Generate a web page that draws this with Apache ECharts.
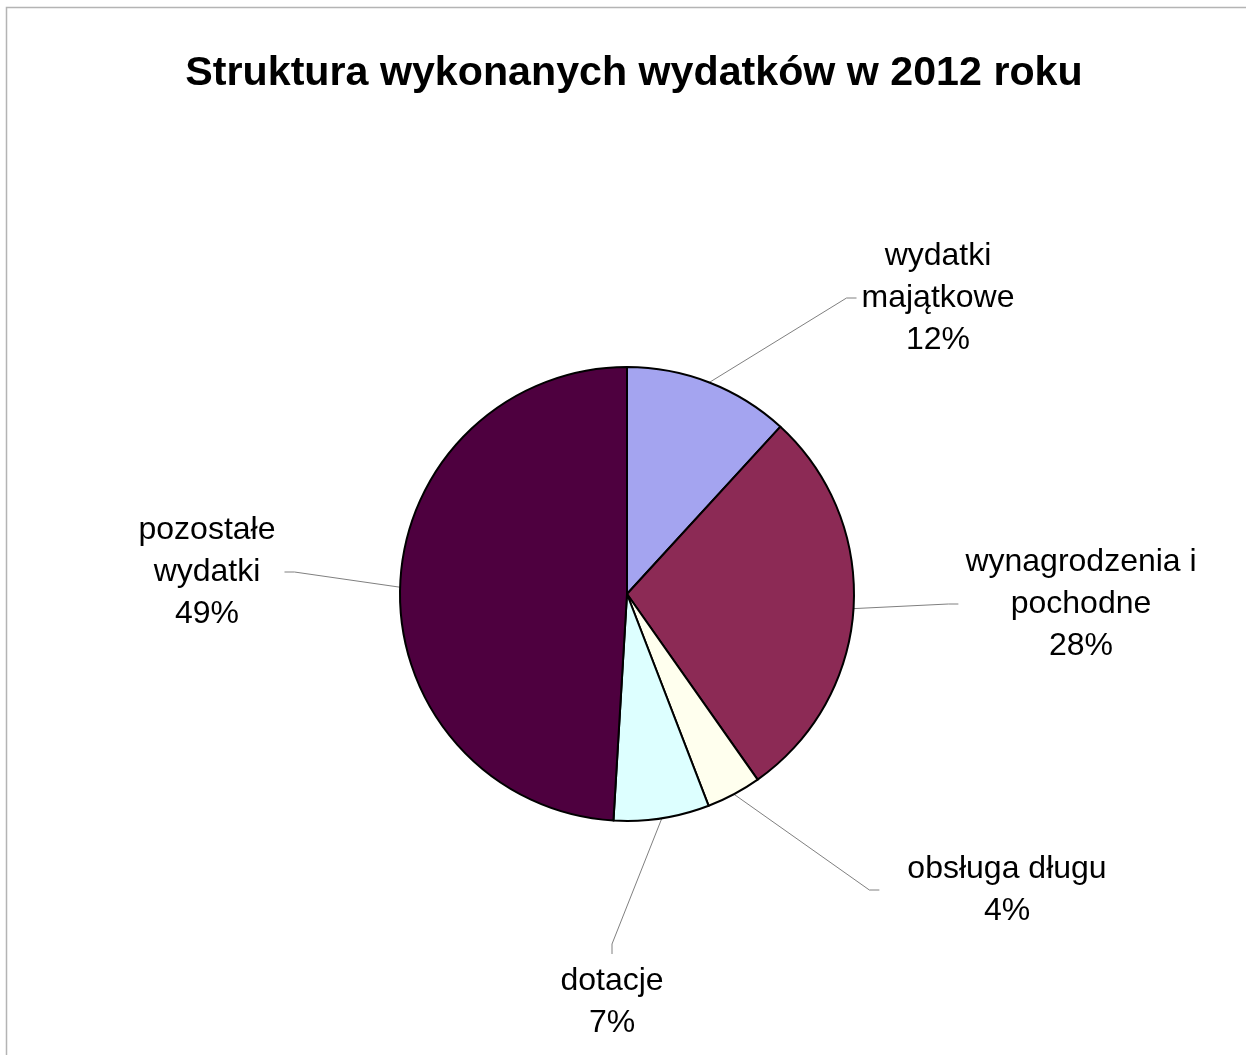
<!DOCTYPE html>
<html>
<head>
<meta charset="utf-8">
<script src="https://cdn.jsdelivr.net/npm/echarts@6/dist/echarts.min.js"></script>
<style>
html,body{margin:0;padding:0;background:#fff;}
#chart{width:1246px;height:1055px;}
</style>
</head>
<body>
<div id="chart"></div>
<script>
// ---- data ----
const titleText = 'Struktura wykonanych wydatków w 2012 roku';
const categories = ['wydatki\nmajątkowe', 'wynagrodzenia i\npochodne', 'obsługa długu', 'dotacje', 'pozostałe\nwydatki'];
const values = [11.8, 28.4, 3.9, 6.8, 49.0];
const colors = ['#A4A4F0', '#8C2A55', '#FFFFEE', '#DDFFFF', '#4E003F'];

// ---- label layout (positions of the label text blocks, px) ----
const labelCenters = [[938, 298], [1081, 604], [1007, 890], [612, 1002], [207, 572]];
const labelSides = ['left', 'left', 'left', 'top', 'right'];
const labelGaps = [5, 7, 28, 6, 9];
const elbowLen = 10;

const chart = echarts.init(document.getElementById('chart'), null, {renderer: 'canvas'});

const option = {
  animation: false,
  backgroundColor: '#ffffff',
  title: {
    text: titleText,
    left: 629,
    textAlign: 'center',
    top: 48,
    textStyle: {
      fontFamily: 'Liberation Sans, Arial, sans-serif',
      fontSize: 41.2,
      fontWeight: 'bold',
      color: '#000'
    }
  },
  graphic: [{
    type: 'rect',
    silent: true,
    shape: {x: 6.5, y: 7.5, width: 1400, height: 1200},
    style: {fill: 'none', stroke: '#b4b4b4', lineWidth: 1.5}
  }],
  series: [{
    type: 'pie',
    center: [627, 594],
    radius: 227,
    startAngle: 90,
    clockwise: true,
    avoidLabelOverlap: false,
    data: categories.map((c, i) => ({name: c, value: values[i], itemStyle: {color: colors[i]}})),
    itemStyle: {borderColor: '#000', borderWidth: 2},
    label: {
      show: true,
      position: 'outside',
      formatter: p => p.name + '\n' + Math.round(p.percent) + '%',
      fontFamily: 'Liberation Sans, Arial, sans-serif',
      fontSize: 32,
      lineHeight: 42,
      color: '#000',
      align: 'center'
    },
    labelLine: {
      show: true,
      length: 20,
      length2: 10,
      smooth: false,
      lineStyle: {color: '#808080', width: 1}
    },
    emphasis: {disabled: true},
    labelLayout: function (params) {
      const i = params.dataIndex;
      const c = labelCenters[i];
      const w = params.labelRect.width, h = params.labelRect.height;
      const side = labelSides[i];
      const g = labelGaps[i];
      let end, elbow;
      if (side === 'left') {
        end = [c[0] - w / 2 - g, c[1]];
        elbow = [end[0] - elbowLen, end[1]];
      } else if (side === 'right') {
        end = [c[0] + w / 2 + g, c[1]];
        elbow = [end[0] + elbowLen, end[1]];
      } else {
        end = [c[0], c[1] - h / 2 - g];
        elbow = [end[0], end[1] - elbowLen];
      }
      const res = {x: c[0], y: c[1], align: 'center', verticalAlign: 'middle'};
      if (params.labelLinePoints && params.labelLinePoints.length) {
        const start = params.labelLinePoints[0];
        res.labelLinePoints = [[start[0], start[1]], elbow, end];
      }
      return res;
    }
  }]
};

chart.setOption(option);
</script>
</body>
</html>
